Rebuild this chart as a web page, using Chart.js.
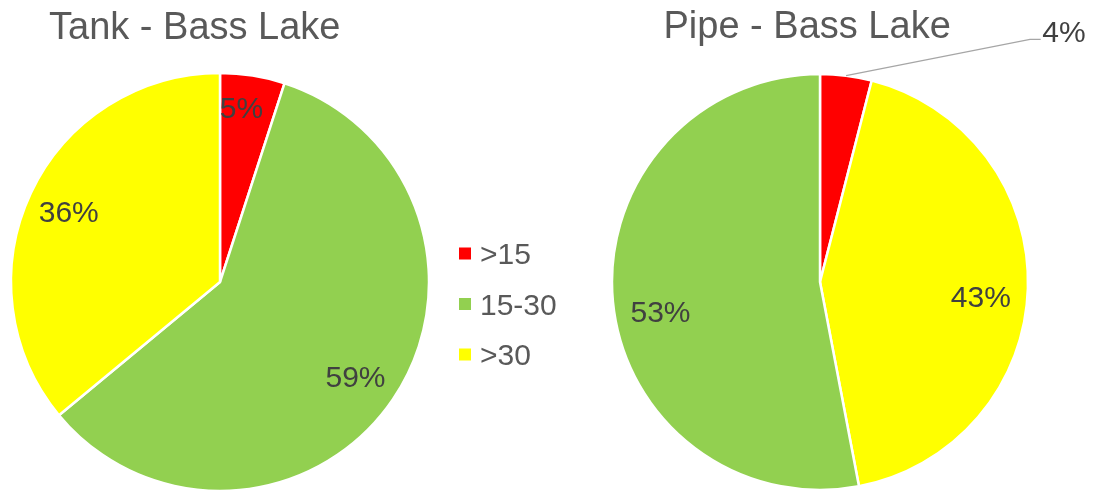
<!DOCTYPE html>
<html>
<head>
<meta charset="utf-8">
<script src="https://cdn.jsdelivr.net/npm/chart.js@4.4.1/dist/chart.umd.min.js"></script>
<style>
  html, body { margin: 0; padding: 0; background: #ffffff; }
  #wrap { position: relative; width: 1096px; height: 491px; overflow: hidden; }
  #wrap canvas { position: absolute; top: 0; }
</style>
</head>
<body>
<div id="wrap">
  <canvas id="tankPie" width="600" height="491" style="left:0px"></canvas>
  <canvas id="pipePie" width="496" height="491" style="left:600px"></canvas>
</div>
<script>
// Share of readings per temperature band, in percent
const tankCategories = ['>15', '15-30', '>30'];
const tankShares = [5, 59, 36];

const pipeCategories = ['>15', '>30', '15-30'];
const pipeShares = [4, 43, 53];

const legendCategories = ['>15', '15-30', '>30'];
const bandColors = { '>15': '#FF0000', '15-30': '#92D050', '>30': '#FFFF00' };

const FONT = '"Liberation Sans", Arial, Helvetica, sans-serif';
const LABEL_COLOR = '#404040';
const TITLE_COLOR = '#595959';

// Draws the title, the percentage labels, an optional leader line and the legend
const pieAnnotations = {
  id: 'pieAnnotations',
  afterDatasetsDraw(chart, args, opts) {
    const ctx = chart.ctx;
    const meta = chart.getDatasetMeta(0);
    const values = chart.data.datasets[0].data;
    ctx.save();

    ctx.font = '38px ' + FONT;
    ctx.fillStyle = TITLE_COLOR;
    ctx.textAlign = 'left';
    ctx.textBaseline = 'alphabetic';
    ctx.fillText(opts.title, opts.titleX, opts.titleY);

    ctx.font = '30px ' + FONT;
    meta.data.forEach((arc, i) => {
      const p = arc.getProps(['x', 'y', 'startAngle', 'endAngle', 'outerRadius'], true);
      const place = opts.placement[i];
      const text = values[i] + '%';
      ctx.fillStyle = LABEL_COLOR;
      if (place.callout) {
        const mid = (p.startAngle + p.endAngle) / 2;
        const sx = p.x + p.outerRadius * Math.cos(mid);
        const sy = p.y + p.outerRadius * Math.sin(mid);
        const ex = p.x + place.callout.dx;
        const ey = p.y + place.callout.dy;
        ctx.strokeStyle = '#A6A6A6';
        ctx.lineWidth = 1.3;
        ctx.beginPath();
        ctx.moveTo(sx, sy);
        ctx.lineTo(ex, ey);
        ctx.lineTo(ex + place.callout.tail, ey);
        ctx.stroke();
        ctx.textAlign = 'left';
        ctx.fillText(text, ex + place.callout.tail + 1.5, ey + 3);
      } else {
        const a = p.startAngle + place.t * (p.endAngle - p.startAngle);
        const d = place.f * p.outerRadius;
        ctx.textAlign = 'center';
        ctx.fillText(text, p.x + d * Math.cos(a), p.y + d * Math.sin(a) + 30 * 0.358);
      }
    });

    if (opts.legend) {
      const lg = opts.legend;
      ctx.font = '30px ' + FONT;
      ctx.textAlign = 'left';
      legendCategories.forEach((name, i) => {
        const cy = lg.y + i * lg.step;
        ctx.fillStyle = bandColors[name];
        ctx.fillRect(lg.x, cy - lg.box / 2, lg.box, lg.box);
        ctx.fillStyle = TITLE_COLOR;
        ctx.fillText(name, lg.x + lg.box + 9, cy + 30 * 0.358);
      });
    }
    ctx.restore();
  }
};

function makePie(canvasId, categories, shares, radius, rightPad, annot) {
  return new Chart(document.getElementById(canvasId), {
    type: 'pie',
    data: {
      labels: categories,
      datasets: [{
        data: shares,
        backgroundColor: categories.map(c => bandColors[c]),
        borderColor: '#FFFFFF',
        borderWidth: 2.5,
        hoverOffset: 0
      }]
    },
    options: {
      responsive: false,
      animation: false,
      devicePixelRatio: 1,
      radius: radius,
      layout: { padding: { left: 0, right: rightPad, top: 73, bottom: 0 } },
      events: [],
      plugins: {
        legend: { display: false },
        title: { display: false },
        tooltip: { enabled: false },
        pieAnnotations: annot
      }
    },
    plugins: [pieAnnotations]
  });
}

makePie('tankPie', tankCategories, tankShares, 209, 160, {
  title: 'Tank - Bass Lake',
  titleX: 49,
  titleY: 39,
  placement: [
    { t: 0.39, f: 0.84 },
    { t: 0.503, f: 0.79 },
    { t: 0.50, f: 0.80 }
  ],
  legend: { x: 459, y: 253.5, step: 50.5, box: 12 }
});

makePie('pipePie', pipeCategories, pipeShares, 208, 56, {
  title: 'Pipe - Bass Lake',
  titleX: 63.5,
  titleY: 38,
  placement: [
    { callout: { dx: 210, dy: -242.7, tail: 10.7 } },
    { t: 0.52, f: 0.776 },
    { t: 0.473, f: 0.78 }
  ]
});
</script>
</body>
</html>
